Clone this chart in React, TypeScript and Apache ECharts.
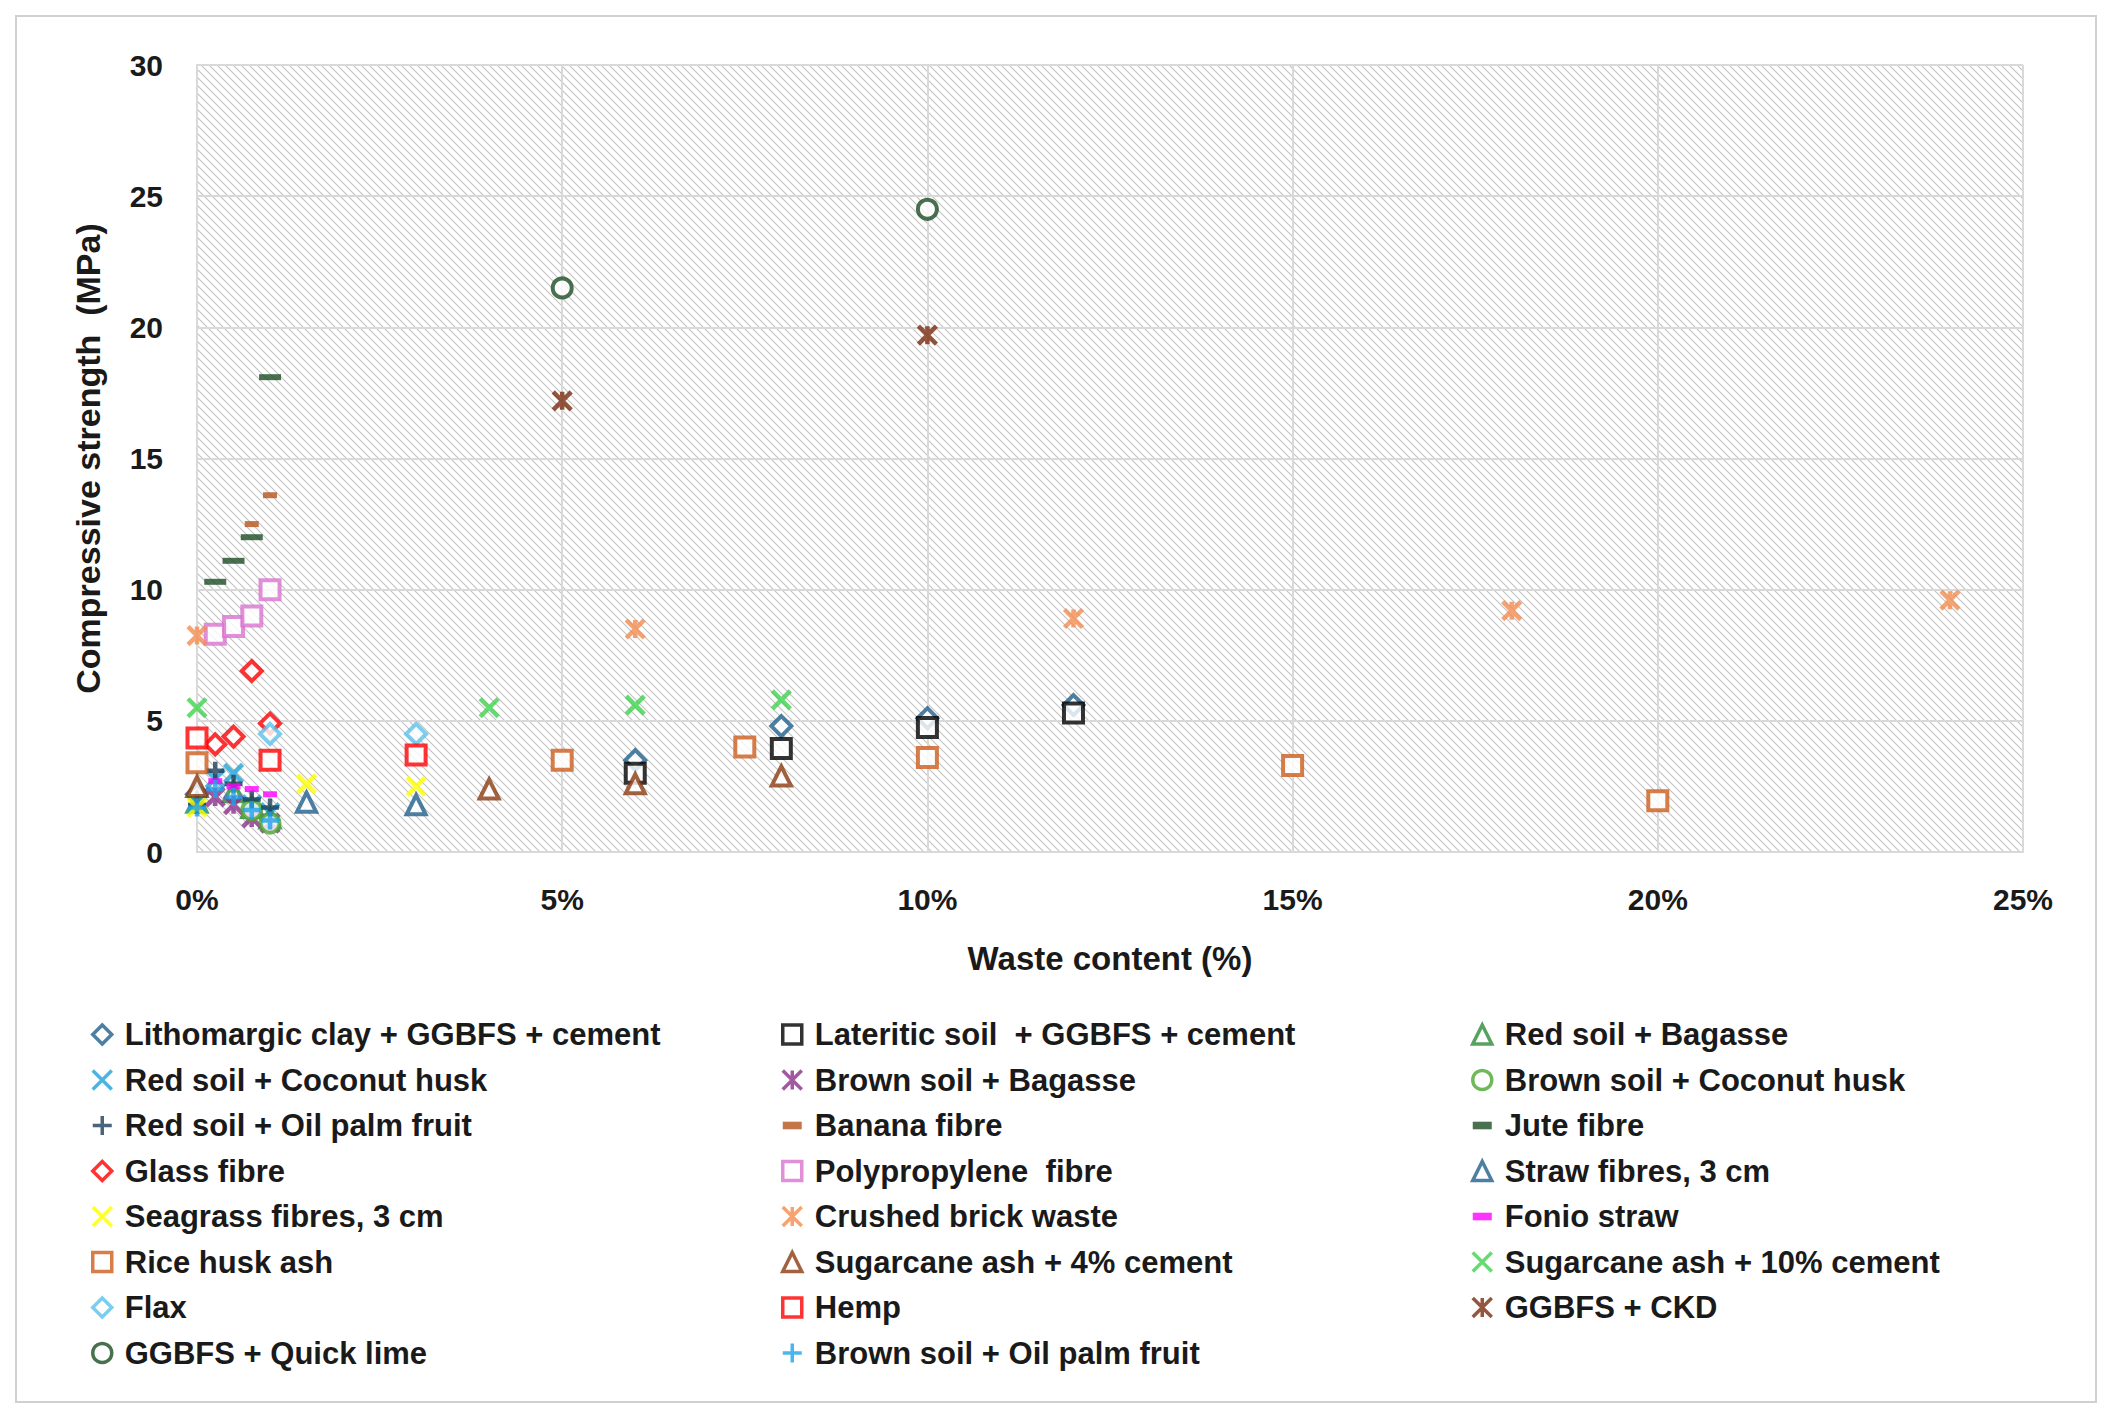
import React, { useEffect, useRef } from 'react';
import * as echarts from 'echarts';

// [waste %, MPa]
const lithomargic = [[0, 2.2], [6, 3.5], [8, 4.8], [10, 5.1], [12, 5.6]];
const lateritic = [[6, 3.0], [8, 3.95], [10, 4.75], [12, 5.3]];
const redBagasse = [[0, 1.9], [0.5, 2.3], [0.75, 1.7], [1, 1.3]];
const redCoconut = [[0, 1.8], [0.25, 2.8], [0.5, 3.0], [0.75, 1.8], [1, 1.5]];
const brownBagasse = [[0.25, 2.1], [0.5, 1.8], [0.75, 1.3], [1, 1.1]];
const brownCoconut = [[0.75, 1.6], [1, 1.1]];
const redOilPalm = [[0, 1.8], [0.25, 3.1], [0.5, 2.6], [0.75, 2.0], [1, 1.7]];
const banana = [[0.75, 12.5], [1, 13.6]];
const jute = [[0.25, 10.3], [0.5, 11.1], [0.75, 12.0], [1, 18.1]];
const glass = [[0.25, 4.1], [0.5, 4.4], [0.75, 6.9], [1, 4.9]];
const polypropylene = [[0.25, 8.3], [0.5, 8.6], [0.75, 9.0], [1, 10.0]];
const straw = [[1.5, 1.9], [3, 1.8]];
const seagrass = [[0, 1.7], [1.5, 2.6], [3, 2.5]];
const crushedBrick = [[0, 8.25], [6, 8.5], [12, 8.9], [18, 9.2], [24, 9.6]];
const fonio = [[0.25, 2.7], [0.5, 2.5], [0.75, 2.4], [1, 2.2]];
const riceHusk = [[0, 3.4], [5, 3.5], [7.5, 4.0], [10, 3.6], [15, 3.3], [20, 1.95]];
const sugar4 = [[0, 2.5], [4, 2.4], [6, 2.6], [8, 2.9]];
const sugar10 = [[0, 5.5], [4, 5.5], [6, 5.6], [8, 5.8]];
const flax = [[1, 4.5], [3, 4.5]];
const hemp = [[0, 4.35], [1, 3.5], [3, 3.7]];
const ggbfsCkd = [[5, 17.2], [10, 19.7]];
const ggbfsLime = [[5, 21.5], [10, 24.5]];
const brownOilPalm = [[0, 1.7], [0.25, 2.4], [0.5, 2.1], [0.75, 1.6], [1, 1.2]];

const xTicks = [0, 5, 10, 15, 20, 25];
const yTicks = [0, 5, 10, 15, 20, 25, 30];

const X = 'path://M0,0L10,10M10,0L0,10';
const PLUS = 'path://M5,0L5,10M0,5L10,5';
const AST = 'path://M0,0L10,10M10,0L0,10M5,0L5,10';
const DASH = 'path://M0,0L10,0L10,4L0,4Z';

type S = { name: string; data: number[][]; symbol: string; color: string; kind: 'empty' | 'stroke' | 'fill'; size?: number };

const seriesDefs: S[] = [
  { name: 'Lithomargic clay + GGBFS + cement', data: lithomargic, symbol: 'diamond', color: '#1f5f8b', kind: 'empty' },
  { name: 'Lateritic soil  + GGBFS + cement', data: lateritic, symbol: 'rect', color: '#000000', kind: 'empty' },
  { name: 'Red soil + Bagasse', data: redBagasse, symbol: 'triangle', color: '#2e8b3a', kind: 'empty' },
  { name: 'Red soil + Coconut husk', data: redCoconut, symbol: X, color: '#1ea3d8', kind: 'stroke' },
  { name: 'Brown soil + Bagasse', data: brownBagasse, symbol: AST, color: '#8b2f8b', kind: 'stroke' },
  { name: 'Brown soil + Coconut husk', data: brownCoconut, symbol: 'circle', color: '#4ca832', kind: 'empty' },
  { name: 'Red soil + Oil palm fruit', data: redOilPalm, symbol: PLUS, color: '#1c3d5a', kind: 'stroke' },
  { name: 'Banana fibre', data: banana, symbol: DASH, color: '#b5541c', kind: 'fill', size: 14 },
  { name: 'Jute fibre', data: jute, symbol: DASH, color: '#1b4d23', kind: 'fill', size: 22 },
  { name: 'Glass fibre', data: glass, symbol: 'diamond', color: '#ff0000', kind: 'empty' },
  { name: 'Polypropylene  fibre', data: polypropylene, symbol: 'rect', color: '#d973d0', kind: 'empty' },
  { name: 'Straw fibres, 3 cm', data: straw, symbol: 'triangle', color: '#1f5f8b', kind: 'empty' },
  { name: 'Seagrass fibres, 3 cm', data: seagrass, symbol: X, color: '#ffff00', kind: 'stroke' },
  { name: 'Crushed brick waste', data: crushedBrick, symbol: AST, color: '#f28c50', kind: 'stroke' },
  { name: 'Fonio straw', data: fonio, symbol: DASH, color: '#ff00ff', kind: 'fill', size: 14 },
  { name: 'Rice husk ash', data: riceHusk, symbol: 'rect', color: '#cc5c1c', kind: 'empty' },
  { name: 'Sugarcane ash + 4% cement', data: sugar4, symbol: 'triangle', color: '#8b3a0f', kind: 'empty' },
  { name: 'Sugarcane ash + 10% cement', data: sugar10, symbol: X, color: '#3fd24e', kind: 'stroke' },
  { name: 'Flax', data: flax, symbol: 'diamond', color: '#5bc0eb', kind: 'empty' },
  { name: 'Hemp', data: hemp, symbol: 'rect', color: '#ff0000', kind: 'empty' },
  { name: 'GGBFS + CKD', data: ggbfsCkd, symbol: AST, color: '#7b2c0f', kind: 'stroke' },
  { name: 'GGBFS + Quick lime', data: ggbfsLime, symbol: 'circle', color: '#1b4d23', kind: 'empty' },
  { name: 'Brown soil + Oil palm fruit', data: brownOilPalm, symbol: PLUS, color: '#1ea3e8', kind: 'stroke' },
];

const FONT = 'Liberation Sans';

function hatch() {
  const c = document.createElement('canvas');
  c.width = 8;
  c.height = 8;
  const g = c.getContext('2d')!;
  g.fillStyle = '#ffffff';
  g.fillRect(0, 0, 8, 8);
  g.strokeStyle = '#c4c4c4';
  g.lineWidth = 1.2;
  g.beginPath();
  g.moveTo(-2, -2); g.lineTo(10, 10);
  g.moveTo(-2, 6); g.lineTo(2, 10);
  g.moveTo(6, -2); g.lineTo(10, 2);
  g.stroke();
  return c.toDataURL();
}

const App: React.FC = () => {
  const ref = useRef<HTMLDivElement | null>(null);

  useEffect(() => {
    if (!ref.current) return;
    const chart = echarts.init(ref.current, undefined, { renderer: 'svg' });

    const styleOf = (s: S) =>
      s.kind === 'fill'
        ? { color: s.color }
        : s.kind === 'stroke'
        ? { color: 'transparent', borderColor: s.color, borderWidth: 4.5 }
        : { color: '#ffffff', borderColor: s.color, borderWidth: 4 };

    const series = seriesDefs.map((s) => ({
      name: s.name,
      type: 'scatter',
      data: s.data,
      symbol: s.symbol,
      symbolSize: s.kind === 'fill' ? [s.size || 18, 6] : s.kind === 'empty' ? (s.symbol === 'diamond' ? 20 : 19) : 18,
      itemStyle: styleOf(s),
      z: 3,
    }));

    const col = (idx: number[], left: number) => ({
      orient: 'vertical',
      left,
      top: 1006,
      itemGap: 14.5,
      itemWidth: 19,
      itemHeight: 19,
      data: idx.map((i) => ({ name: seriesDefs[i].name, itemStyle: { borderWidth: 3.5 } })),
      textStyle: { fontFamily: FONT, fontSize: 31, fontWeight: 'bold', color: '#1a1a1a', padding: [0, 0, 0, 8] },
    });
    const a = [0, 3, 6, 9, 12, 15, 18, 21];
    const b = [1, 4, 7, 10, 13, 16, 19, 22];
    const c = [2, 5, 8, 11, 14, 17, 20];

    const option: any = {
      animation: false,
      backgroundColor: '#ffffff',
      graphic: [
        { type: 'rect', shape: { x: 8, y: 8, width: 2080, height: 1386 }, style: { fill: 'none', stroke: '#d0d0d0', lineWidth: 2 } },
      ],
      grid: {
        left: 189,
        top: 57,
        right: 83,
        bottom: 558,
        show: true,
        backgroundColor: { image: hatch(), repeat: 'repeat' },
        borderWidth: 0,
      },
      xAxis: {
        type: 'value',
        min: 0,
        max: 25,
        interval: 5,
        name: 'Waste content (%)',
        nameLocation: 'middle',
        nameGap: 90,
        nameTextStyle: { fontFamily: FONT, fontSize: 33, fontWeight: 'bold', color: '#1a1a1a' },
        axisLine: { show: true, lineStyle: { color: '#d9d9d9', width: 2 } },
        axisTick: { show: false },
        splitLine: { show: true, lineStyle: { color: '#d9d9d9', width: 2 } },
        axisLabel: {
          fontFamily: FONT, fontSize: 30, fontWeight: 'bold', color: '#1a1a1a', margin: 32,
          formatter: (v: number) => (xTicks.includes(v) ? v + '%' : ''),
        },
      },
      yAxis: {
        type: 'value',
        min: 0,
        max: 30,
        interval: 5,
        name: 'Compressive strength  (MPa)',
        nameLocation: 'middle',
        nameGap: 92,
        nameTextStyle: { fontFamily: FONT, fontSize: 34, fontWeight: 'bold', color: '#1a1a1a' },
        axisLine: { show: true, lineStyle: { color: '#d9d9d9', width: 2 } },
        axisTick: { show: false },
        splitLine: { show: true, lineStyle: { color: '#d9d9d9', width: 2 } },
        axisLabel: {
          fontFamily: FONT, fontSize: 30, fontWeight: 'bold', color: '#1a1a1a', margin: 34,
          formatter: (v: number) => (yTicks.includes(v) ? String(v) : ''),
        },
      },
      legend: [col(a, 78), col(b, 768), col(c, 1458)],
      series,
    };
    chart.setOption(option);
    return () => chart.dispose();
  }, []);

  return <div ref={ref} style={{ width: 2098, height: 1402 }} />;
};

export default App;
